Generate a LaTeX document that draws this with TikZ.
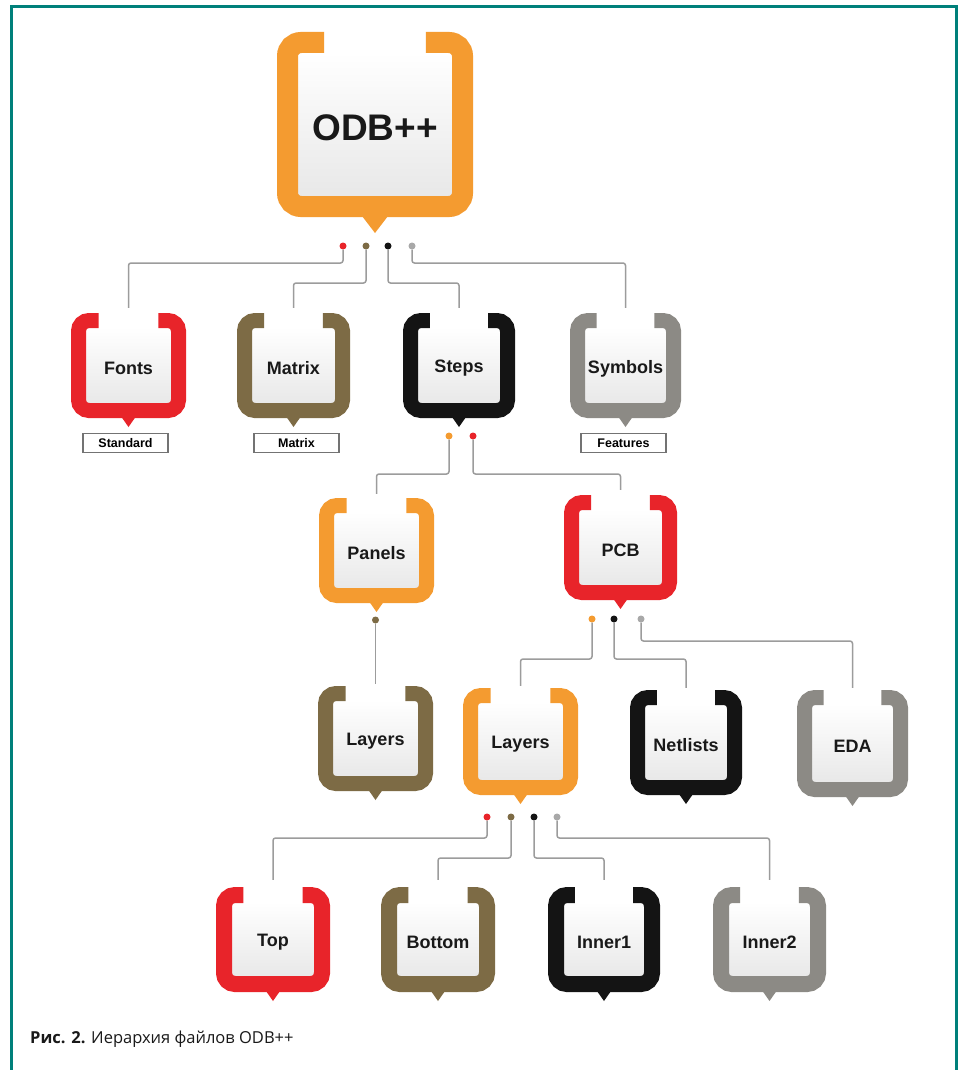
\documentclass[tikz,border=0pt]{standalone}
\usepackage{fontspec}
\setmainfont{Liberation Sans}
\newfontfamily\capfont{Open Sans}
\usetikzlibrary{calc}
\definecolor{cOrange}{HTML}{F49B30}
\definecolor{cRed}{HTML}{E8242A}
\definecolor{cOlive}{HTML}{7D6B45}
\definecolor{cBlack}{HTML}{141414}
\definecolor{cGray}{HTML}{8C8A85}
\definecolor{cDotGray}{HTML}{A8A8A8}
\definecolor{cLine}{HTML}{9C9C9C}
\definecolor{cTeal}{HTML}{00807A}
\tikzset{
  conn/.style={draw=cLine, line width=1.5pt, rounded corners=2.5pt},
  cdot/.style={circle, inner sep=0pt, minimum size=7pt},
  tagbox/.style={draw=black!55, line width=1.2pt, fill=white, minimum width=85pt, minimum height=19pt, inner sep=0pt, font=\bfseries\fontsize{12.5}{12.5}\selectfont},
}
% #1 name, #2 L, #3 T, #4 R, #5 B, #6 thickness, #7 color, #8 label, #9 font size
\newcommand\bbox[9]{%
  \pgfmathsetmacro\bbrr{#6/2+3}%
  \pgfmathsetmacro\bbarm{0.24*(#4-#2)}%
  \pgfmathsetmacro\bbph{#6<18?7:13}%
  \pgfmathsetmacro\bbpv{#6<18?9:16}%
  \fill[top color=white, bottom color=black!9] (#2+#6-1,#3+#6-1) rectangle (#4-#6+1,#5-#6+1);
  \draw[#7, line width=#6pt, rounded corners=\bbrr pt]
    (#2+\bbarm,#3+#6/2) -- (#2+#6/2,#3+#6/2) -- (#2+#6/2,#5-#6/2)
    -- (#4-#6/2,#5-#6/2) -- (#4-#6/2,#3+#6/2) -- (#4-\bbarm,#3+#6/2);
  \fill[#7] ({(#2+#4)/2-\bbph},#5-1) -- ({(#2+#4)/2+\bbph},#5-1) -- ({(#2+#4)/2},#5+\bbpv) -- cycle;
  \node[inner sep=0pt, minimum width={#4-#2}, minimum height={#5-#3}, text=black!90,
        font=\bfseries\fontsize{#9}{#9}\selectfont] (#1) at ({(#2+#4)/2},{(#3+#5)/2+3}) {#8};
}
\begin{document}
\begin{tikzpicture}[x=1pt,y=-1pt]
\fill[white] (0,0) rectangle (959,1070);
\useasboundingbox (0,0) rectangle (959,1070);
% frame
\draw[cTeal, line width=3pt] (11,1072) -- (11,7) -- (956,7) -- (956,1072);

% boxes
\bbox{odb}{277}{32}{473}{217}{21}{cOrange}{ODB++}{37}
\bbox{fonts}{71}{313}{186}{418}{15}{cRed}{Fonts}{18}
\bbox{matrix}{237}{313}{350}{418}{15}{cOlive}{Matrix}{18}
\bbox{steps}{403}{313}{515}{418}{15}{cBlack}{Steps}{18}
\bbox{symbols}{570}{313}{681}{418}{15}{cGray}{Symbols}{18}
\bbox{panels}{319}{498}{434}{603}{15}{cOrange}{Panels}{18}
\bbox{pcb}{564}{495}{677}{600}{15}{cRed}{PCB}{18}
\bbox{layersA}{318}{686}{433}{791}{15}{cOlive}{Layers}{18}
\bbox{layersB}{463}{688}{578}{795}{15}{cOrange}{Layers}{18}
\bbox{netlists}{630}{690}{742}{795}{15}{cBlack}{Netlists}{18}
\bbox{eda}{797}{690}{908}{797}{15}{cGray}{EDA}{18}
\bbox{top}{216}{887}{330}{992}{16}{cRed}{Top}{18}
\bbox{bottom}{381}{887}{495}{992}{16}{cOlive}{Bottom}{18}
\bbox{inner1}{548}{887}{660}{992}{16}{cBlack}{Inner1}{18}
\bbox{inner2}{713}{887}{826}{992}{16}{cGray}{Inner2}{18}

% tags
\node[tagbox] (tStd) at (125.5,443) {Standard};
\node[tagbox] (tMat) at (296.5,443) {Matrix};
\node[tagbox] (tFea) at (623.5,443) {Features};

% dots under ODB++
\node[cdot, fill=cRed] (o1) at (343,246) {};
\node[cdot, fill=cOlive] (o2) at (366,246) {};
\node[cdot, fill=cBlack] (o3) at (388,246) {};
\node[cdot, fill=cDotGray] (o4) at (412,246) {};
\draw[conn] (o1.south) -- (o1 |- 0,263) -| ([yshift=8pt]fonts.north);
\draw[conn] (o2.south) -- (o2 |- 0,283) -| ([yshift=8pt]matrix.north);
\draw[conn] (o3.south) -- (o3 |- 0,283) -| ([yshift=8pt]steps.north);
\draw[conn] (o4.south) -- (o4 |- 0,263) -| ([yshift=8pt]symbols.north);

% dots under Steps
\node[cdot, fill=cOrange] (s1) at (449,436) {};
\node[cdot, fill=cRed] (s2) at (473,436) {};
\draw[conn] (s1.south) -- (s1 |- 0,474) -| ([yshift=7pt]panels.north);
\draw[conn] (s2.south) -- (s2 |- 0,474) -| ([yshift=8pt]pcb.north);

% dot under Panels
\node[cdot, fill=cOlive] (p1) at (375.5,620) {};
\draw[conn] (p1.south) -- ([yshift=5pt]p1 |- layersA.north);

% dots under PCB
\node[cdot, fill=cOrange] (c1) at (592,619) {};
\node[cdot, fill=cBlack] (c2) at (614,619) {};
\node[cdot, fill=cDotGray] (c3) at (641,619) {};
\draw[conn] (c1.south) -- (c1 |- 0,659) -| ([yshift=5pt]layersB.north);
\draw[conn] (c2.south) -- (c2 |- 0,659) -| ([yshift=5pt]netlists.north);
\draw[conn] (c3.south) -- (c3 |- 0,641) -| ([yshift=5pt]eda.north);

% dots under Layers
\node[cdot, fill=cRed] (l1) at (487,817) {};
\node[cdot, fill=cOlive] (l2) at (511,817) {};
\node[cdot, fill=cBlack] (l3) at (534,817) {};
\node[cdot, fill=cDotGray] (l4) at (557,817) {};
\draw[conn] (l1.south) -- (l1 |- 0,838) -| ([yshift=10pt]top.north);
\draw[conn] (l2.south) -- (l2 |- 0,858) -| ([yshift=10pt]bottom.north);
\draw[conn] (l3.south) -- (l3 |- 0,858) -| ([yshift=10pt]inner1.north);
\draw[conn] (l4.south) -- (l4 |- 0,838) -| ([yshift=10pt]inner2.north);

% caption
\node[anchor=base west, inner sep=0pt, text=black!90, font=\capfont\fontsize{16.5}{16.5}\selectfont] (cap) at (30,1043) {\textbf{Рис. 2.} Иерархия файлов ODB++};
\end{tikzpicture}
\end{document}
